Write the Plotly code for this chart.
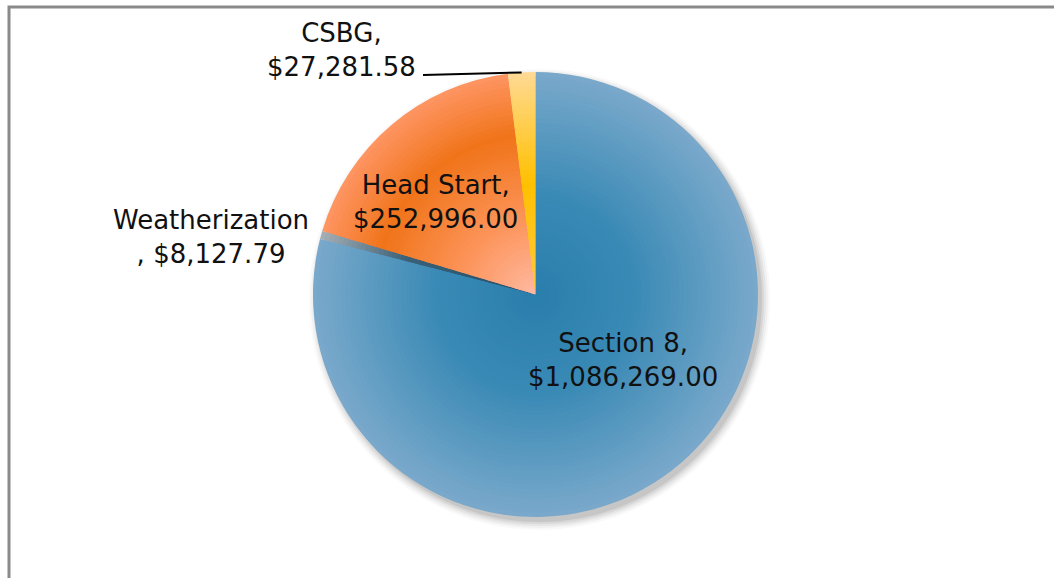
import numpy as np
import plotly.graph_objects as go

# ---- data ----
categories = ["Section 8", "Weatherization", "Head Start", "CSBG"]
values = [1086269.00, 8127.79, 252996.00, 27281.58]
value_labels = ["$1,086,269.00", "$8,127.79", "$252,996.00", "$27,281.58"]

# ---- style ----
W, H = 1054, 578
CX, CY, R = 535.5, 294.5, 222.5
N_RINGS = 48

gradients = {
    "Section 8": [(0.0, "#2A7EAB"), (0.45, "#3A8AB6"), (1.0, "#7AA9CB")],
    "Weatherization": [(0.0, "#24506A"), (0.6, "#3A6177"), (1.0, "#A6AFB5")],
    "Head Start": [(0.0, "#FFB9A2"), (0.35, "#FC9358"), (0.72, "#F07419"), (1.0, "#FF9563")],
    "CSBG": [(0.0, "#FFC93E"), (0.5, "#FFC000"), (1.0, "#FFDA94")],
}


def hex2rgb(h):
    h = h.lstrip("#")
    return np.array([int(h[i:i + 2], 16) for i in (0, 2, 4)], dtype=float)


def grad_color(stops, t):
    ts = [s[0] for s in stops]
    cs = [hex2rgb(s[1]) for s in stops]
    for i in range(len(ts) - 1):
        if t <= ts[i + 1]:
            f = (t - ts[i]) / (ts[i + 1] - ts[i])
            c = cs[i] + f * (cs[i + 1] - cs[i])
            break
    else:
        c = cs[-1]
    return "rgb(%d,%d,%d)" % tuple(np.round(c))


fig = go.Figure()

# stacked full pies, largest first -> radial gradient per slice
for k in range(N_RINGS, 0, -1):
    r = R * k / N_RINGS
    t = (k - 0.5) / N_RINGS
    colors = [grad_color(gradients[c], t) for c in categories]
    fig.add_trace(go.Pie(
        labels=categories, values=values, sort=False, direction="clockwise",
        rotation=0, textinfo="none", hoverinfo="skip", showlegend=False,
        marker=dict(colors=colors, line=dict(width=0)),
        domain=dict(x=[(CX - r) / W, (CX + r) / W],
                    y=[1 - (CY + r) / H, 1 - (CY - r) / H]),
    ))

shapes = []
# soft shadow, mostly toward lower right
for dr, op in [(8, 0.025), (6, 0.035), (4, 0.045), (2, 0.06), (0, 0.08)]:
    ox, oy = 4, 5
    shapes.append(dict(type="circle", xref="paper", yref="paper", layer="below",
                       x0=(CX + ox - R - dr) / W, x1=(CX + ox + R + dr) / W,
                       y0=1 - (CY + oy + R + dr) / H, y1=1 - (CY + oy - R - dr) / H,
                       fillcolor="rgba(0,0,0,%g)" % op, line=dict(width=0)))

# frame
shapes.append(dict(type="rect", xref="paper", yref="paper",
                   x0=9 / W, x1=1070 / W, y0=1 - 600 / H, y1=1 - 7 / H,
                   line=dict(color="#8A8A8A", width=3), fillcolor="rgba(0,0,0,0)"))

# leader line for CSBG: from label to the slice mid-angle on the edge
total = sum(values)
start = sum(values[:3]) / total
mid = (start + values[3] / total / 2) * 2 * np.pi
ex = CX + R * np.sin(mid)
ey = CY - R * np.cos(mid)
shapes.append(dict(type="line", xref="paper", yref="paper",
                   x0=423 / W, y0=1 - 75 / H, x1=ex / W, y1=1 - ey / H,
                   line=dict(color="#000000", width=2)))

label_pos = {
    "Section 8": (623, 360, "Section 8,<br>"),
    "Head Start": (435, 202, "Head Start,<br>"),
    "Weatherization": (211, 237, "Weatherization<br>, "),
    "CSBG": (341, 50, "CSBG,<br>"),
}
annotations = []
for c, v in zip(categories, value_labels):
    x, y, prefix = label_pos[c]
    annotations.append(dict(x=x / W, y=1 - y / H, xref="paper", yref="paper",
                            text=prefix + v, showarrow=False,
                            xanchor="center", yanchor="middle",
                            font=dict(family="DejaVu Sans, sans-serif", size=26, color="#111111")))

fig.update_layout(
    width=W, height=H, margin=dict(l=0, r=0, t=0, b=0),
    paper_bgcolor="white", plot_bgcolor="white",
    shapes=shapes, annotations=annotations, showlegend=False,
)

fig.write_html("out.html", config={"displayModeBar": False},
               post_script="document.body.style.margin='0';")
